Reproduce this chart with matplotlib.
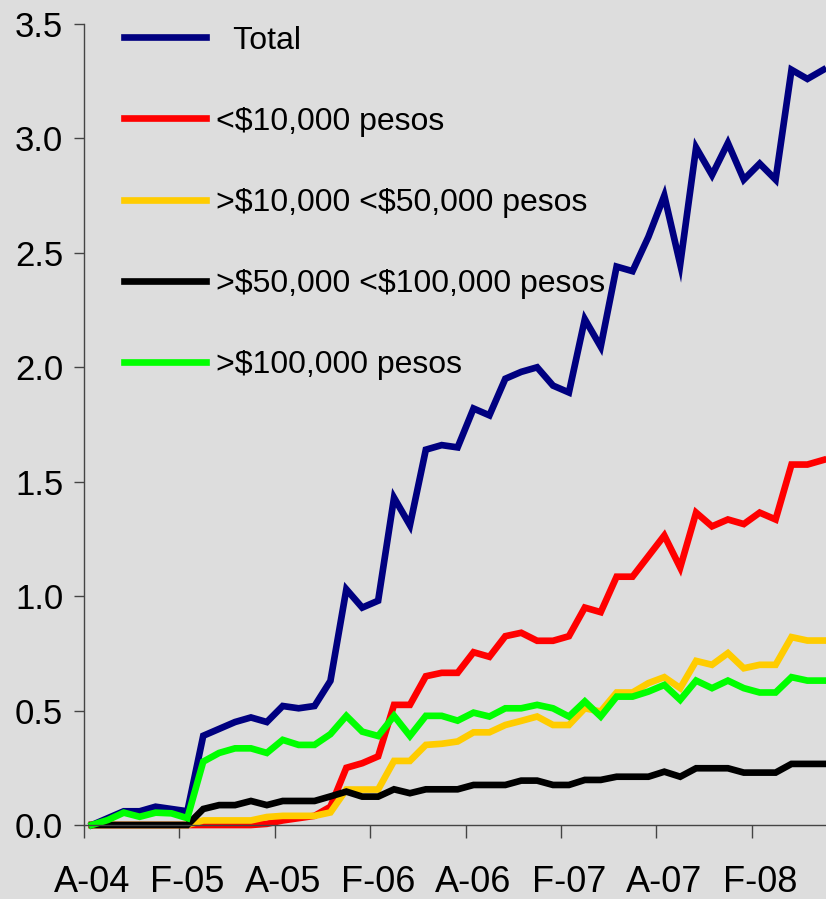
import numpy as np
import matplotlib
matplotlib.use("Agg")
import matplotlib.pyplot as plt

plt.rcParams['font.family'] = ['Liberation Sans', 'DejaVu Sans']

# monthly series, Aug-2004 .. Jun-2008
total = [0.00, 0.03, 0.06, 0.06, 0.08, 0.07, 0.06,
         0.39, 0.42, 0.45, 0.47, 0.45, 0.52, 0.51, 0.52, 0.63,
         1.03, 0.95, 0.98, 1.43, 1.31, 1.64, 1.66, 1.65,
         1.82, 1.79, 1.95, 1.98, 2.00, 1.92, 1.89,
         2.21, 2.09, 2.44, 2.42, 2.57, 2.75, 2.45,
         2.96, 2.84, 2.98, 2.82, 2.89, 2.82, 3.30, 3.26, 3.30]
menos10 = [0, 0, 0, 0, 0, 0, 0,
           0, 0, 0, 0, 0.005, 0.02, 0.03, 0.04, 0.08,
           0.25, 0.27, 0.30, 0.525, 0.525, 0.65, 0.665, 0.665,
           0.755, 0.735, 0.825, 0.84, 0.805, 0.805, 0.825,
           0.95, 0.93, 1.085, 1.085, 1.175, 1.265, 1.125,
           1.365, 1.305, 1.335, 1.315, 1.365, 1.335, 1.575, 1.575, 1.595]
de10a50 = [0, 0, 0, 0, 0, 0, 0,
           0.02, 0.02, 0.02, 0.02, 0.035, 0.04, 0.04, 0.04, 0.055,
           0.155, 0.155, 0.155, 0.28, 0.28, 0.35, 0.355, 0.365,
           0.405, 0.405, 0.437, 0.455, 0.474, 0.437, 0.437,
           0.51, 0.496, 0.579, 0.579, 0.62, 0.646, 0.598,
           0.717, 0.70, 0.751, 0.685, 0.70, 0.70, 0.821, 0.806, 0.806]
de50a100 = [0, 0, 0, 0, 0, 0, 0,
            0.07, 0.087, 0.087, 0.105, 0.087, 0.105, 0.105, 0.105, 0.125,
            0.146, 0.124, 0.124, 0.156, 0.139, 0.156, 0.156, 0.156,
            0.175, 0.175, 0.175, 0.194, 0.194, 0.175, 0.175,
            0.197, 0.197, 0.211, 0.211, 0.211, 0.233, 0.211,
            0.248, 0.248, 0.248, 0.229, 0.229, 0.229, 0.267, 0.267, 0.267]
mas100 = [0, 0.022, 0.054, 0.036, 0.054, 0.051, 0.03,
          0.277, 0.315, 0.335, 0.335, 0.315, 0.372, 0.35, 0.35, 0.397,
          0.477, 0.408, 0.389, 0.477, 0.389, 0.477, 0.477, 0.456,
          0.491, 0.474, 0.51, 0.51, 0.525, 0.51, 0.474,
          0.54, 0.474, 0.561, 0.561, 0.583, 0.612, 0.547,
          0.631, 0.598, 0.631, 0.598, 0.579, 0.579, 0.646, 0.631, 0.631]

etiquetas = ['A-04', 'F-05', 'A-05', 'F-06', 'A-06', 'F-07', 'A-07', 'F-08']
series = ['  Total', '<\\$10,000 pesos', '>\\$10,000 <\\$50,000 pesos',
          '>\\$50,000 <\\$100,000 pesos', '>\\$100,000 pesos']
colores = ['#000080', '#FF0000', '#FFCC00', '#000000', '#00FF00']

fondo = '#DDDDDD'
fig = plt.figure(figsize=(8.26, 8.99), dpi=100, facecolor=fondo)
ax = fig.add_axes([0.1017, 0.0823, 0.8983, 0.891])
ax.set_facecolor(fondo)

x = np.arange(len(total))
for datos, nombre, c in zip([total, menos10, de10a50, de50a100, mas100], series, colores):
    ax.plot(x, datos, color=c, lw=4.8, label=nombre, clip_on=False,
            solid_joinstyle='miter')

ax.set_ylim(0, 3.5)
ax.set_xlim(-0.5, 46.17)
ax.set_yticks(np.arange(0, 3.51, 0.5))
ax.set_yticklabels(['%.1f' % v for v in np.arange(0, 3.51, 0.5)], fontsize=25)
ax.tick_params(axis='y', length=7, width=1, color='#444444', pad=8)

# tick marks between categories, labels on categories
ax.set_xticks(np.arange(-0.5, 46, 6))
ax.set_xticklabels([])
ax.tick_params(axis='x', which='major', length=9, width=1, color='#444444')
ax.set_xticks(np.arange(0, 43, 6), minor=True)
ax.set_xticklabels(etiquetas, minor=True, fontsize=26)
ax.tick_params(axis='x', which='minor', length=0, pad=29)

for s in ['top', 'right']:
    ax.spines[s].set_visible(False)
for s in ['left', 'bottom']:
    ax.spines[s].set_color('#444444')
    ax.spines[s].set_linewidth(1)

ax.legend(loc='upper left', bbox_to_anchor=(0.037, 1.014), frameon=False,
          fontsize=23, handlelength=2.55, handletextpad=0.33, labelspacing=1.60,
          borderaxespad=0)

fig.savefig('out.png', dpi=100, facecolor=fondo)
